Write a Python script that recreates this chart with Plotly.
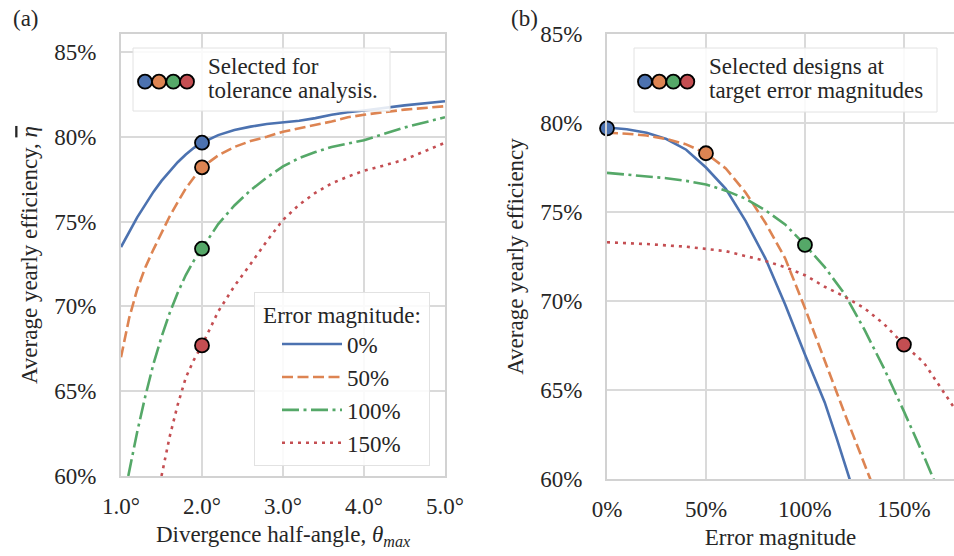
import plotly.graph_objects as go

# ---------------- data ----------------
# Panel (a): efficiency vs divergence half-angle (deg), per error magnitude
theta_0 = [1.0, 1.1, 1.2, 1.3, 1.4, 1.5, 1.6, 1.7, 1.8, 1.9, 2.0, 2.2, 2.4, 2.6, 2.8, 3.0, 3.2, 3.4, 3.6, 3.8, 4.0, 4.5, 5.0]
eff_0 = [73.5, 74.4, 75.25, 76.0, 76.75, 77.4, 77.95, 78.5, 78.95, 79.35, 79.65, 80.1, 80.4, 80.6, 80.75, 80.85, 80.95, 81.1, 81.3, 81.45, 81.55, 81.85, 82.1]

theta_50 = [1.0, 1.1, 1.2, 1.3, 1.4, 1.5, 1.6, 1.7, 1.8, 1.9, 2.0, 2.2, 2.4, 2.6, 2.8, 3.0, 3.2, 3.4, 3.6, 3.8, 4.0, 4.5, 5.0]
eff_50 = [67.0, 69.3, 71.0, 72.3, 73.35, 74.35, 75.3, 76.15, 76.95, 77.6, 78.2, 78.9, 79.4, 79.75, 80.0, 80.3, 80.5, 80.7, 80.9, 81.15, 81.3, 81.6, 81.8]

theta_100 = [1.09, 1.2, 1.3, 1.4, 1.5, 1.6, 1.7, 1.8, 1.9, 2.0, 2.2, 2.4, 2.6, 2.8, 3.0, 3.2, 3.4, 3.6, 3.8, 4.0, 4.2, 4.5, 5.0]
eff_100 = [60.0, 62.6, 64.7, 66.6, 68.2, 69.6, 70.8, 71.85, 72.7, 73.4, 74.85, 75.95, 76.85, 77.6, 78.25, 78.75, 79.1, 79.4, 79.6, 79.8, 80.1, 80.55, 81.15]

theta_150 = [1.5, 1.6, 1.7, 1.8, 1.9, 2.0, 2.2, 2.4, 2.6, 2.8, 3.0, 3.2, 3.4, 3.6, 3.8, 4.0, 4.2, 4.5, 5.0]
eff_150 = [60.0, 62.3, 64.2, 65.8, 66.85, 67.7, 69.7, 71.2, 72.5, 73.85, 75.1, 76.0, 76.7, 77.25, 77.65, 78.0, 78.25, 78.65, 79.65]

sel_theta = [2.0, 2.0, 2.0, 2.0]
sel_theta_eff = [79.65, 78.2, 73.4, 67.7]

# Panel (b): efficiency vs error magnitude (%), per design
err_0 = [0, 10, 20, 30, 40, 50, 60, 70, 80, 90, 100, 110, 116, 122.7, 126]
effb_0 = [79.75, 79.65, 79.45, 79.1, 78.5, 77.5, 76.3, 74.5, 72.4, 69.8, 67.0, 64.3, 62.3, 60.0, 58.8]

err_50 = [0, 10, 20, 30, 40, 50, 60, 70, 80, 90, 100, 110, 120, 133, 136]
effb_50 = [79.45, 79.4, 79.3, 79.1, 78.8, 78.3, 77.45, 76.1, 74.4, 72.4, 69.6, 66.6, 63.7, 60.0, 59.1]

err_100 = [0, 10, 20, 30, 40, 50, 60, 70, 80, 90, 100, 110, 120, 130, 140, 150, 160, 165, 168]
effb_100 = [77.2, 77.1, 77.0, 76.9, 76.75, 76.55, 76.2, 75.75, 75.1, 74.3, 73.15, 71.9, 70.4, 68.4, 66.2, 63.8, 61.3, 60.0, 59.2]

err_150 = [0, 20, 40, 60, 80, 90, 100, 110, 120, 130, 140, 150, 160, 170, 176]
effb_150 = [73.3, 73.2, 73.05, 72.8, 72.25, 71.9, 71.45, 70.8, 70.25, 69.6, 68.7, 67.55, 66.55, 64.9, 63.9]

sel_err = [0, 50, 100, 150]
sel_err_eff = [79.7, 78.3, 73.15, 67.55]

series_names = ["0%", "50%", "100%", "150%"]

y_tickvals = [60, 65, 70, 75, 80, 85]
y_ticktext = ["60%", "65%", "70%", "75%", "80%", "85%"]
xa_tickvals = [1, 2, 3, 4, 5]
xa_ticktext = ["1.0°", "2.0°", "3.0°", "4.0°", "5.0°"]
xb_tickvals = [0, 50, 100, 150, 200]
xb_ticktext = ["0%", "50%", "100%", "150%", "200%"]

# ---------------- style ----------------
W, H = 954, 556
colors = ["#4C72B0", "#DD8452", "#55A868", "#C44E52"]
dashes = ["solid", "11px,4.5px", "17px,4.5px,3px,4.5px", "3px,5px"]
FONT = "Liberation Serif"
TXT = "#262626"
GRID = "#dadada"
FS = 23

def px(x):
    return x / W

def py(y):
    return 1 - y / H

fig = go.Figure()

left_series = [(theta_0, eff_0), (theta_50, eff_50), (theta_100, eff_100), (theta_150, eff_150)]
right_series = [(err_0, effb_0), (err_50, effb_50), (err_100, effb_100), (err_150, effb_150)]

for i, (xs, ys) in enumerate(left_series):
    fig.add_trace(go.Scatter(x=xs, y=ys, mode="lines", name=series_names[i],
                             legendgroup=series_names[i], showlegend=True,
                             line=dict(color=colors[i], width=2.6, dash=dashes[i]),
                             xaxis="x", yaxis="y"))
for i, (xs, ys) in enumerate(right_series):
    fig.add_trace(go.Scatter(x=xs, y=ys, mode="lines", name=series_names[i],
                             legendgroup=series_names[i], showlegend=False,
                             line=dict(color=colors[i], width=2.6, dash=dashes[i]),
                             xaxis="x2", yaxis="y2"))

fig.add_trace(go.Scatter(x=sel_theta, y=sel_theta_eff, mode="markers", showlegend=False,
                         marker=dict(size=14, color=colors, line=dict(color="black", width=1.8)),
                         xaxis="x", yaxis="y", cliponaxis=False))
fig.add_trace(go.Scatter(x=sel_err, y=sel_err_eff, mode="markers", showlegend=False,
                         marker=dict(size=14, color=colors, line=dict(color="black", width=1.8)),
                         xaxis="x2", yaxis="y2", cliponaxis=False))

axis_common = dict(showgrid=True, gridcolor=GRID, gridwidth=1.6, zeroline=False,
                   showline=True, linecolor="#d2d2d2", linewidth=2, mirror=True,
                   ticks="", automargin=False,
                   tickfont=dict(family=FONT, size=FS, color=TXT))

def title(text, standoff):
    return dict(text=text, standoff=standoff, font=dict(family=FONT, size=FS, color=TXT))

fig.update_layout(
    template="none",
    width=W, height=H,
    margin=dict(l=0, r=0, t=0, b=0, autoexpand=False),
    paper_bgcolor="white", plot_bgcolor="white",
    font=dict(family=FONT, size=FS, color=TXT),
    xaxis=dict(domain=[px(121), px(445)], range=[1, 5], tickvals=xa_tickvals, ticktext=xa_ticktext,
               ticklabelstandoff=8, title=title("Divergence half-angle, <i>θ</i><sub><i>max</i></sub>", 8),
               anchor="y", **axis_common),
    yaxis=dict(domain=[py(476), py(34)], range=[60, 86.06], tickvals=y_tickvals, ticktext=y_ticktext,
               ticklabelstandoff=18,
               title=title("Average yearly efficiency, <span style=\"text-decoration:overline\"><i>η</i></span>", 10),
               anchor="x", **axis_common),
    xaxis2=dict(domain=[px(607), 1.0], range=[0, 175.3], tickvals=xb_tickvals, ticktext=xb_ticktext,
                ticklabelstandoff=8, title=title("Error magnitude", 8),
                anchor="y2", **axis_common),
    yaxis2=dict(domain=[py(479), py(34)], range=[60, 85.0], tickvals=y_tickvals, ticktext=y_ticktext,
                ticklabelstandoff=18, title=title("Average yearly efficiency", 10),
                anchor="x2", **axis_common),
    legend=dict(x=px(254), y=py(291.7), xanchor="left", yanchor="top",
                title=dict(text="\u00a0Error magnitude:\u00a0", side="top center",
                           font=dict(family=FONT, size=FS, color=TXT)),
                font=dict(family=FONT, size=FS, color=TXT),
                bgcolor="rgba(255,255,255,0.85)", bordercolor="#e2e2e2", borderwidth=1,
                tracegroupgap=0, indentation=22, itemwidth=60),
)

shapes = []
annotations = []

def legend_box(x0, x1, y0, y1, cx_list, cy, tx, lines):
    shapes.append(dict(type="rect", xref="paper", yref="paper", x0=px(x0), x1=px(x1), y0=py(y1), y1=py(y0),
                       line=dict(color="#e2e2e2", width=1), fillcolor="rgba(255,255,255,0.85)", layer="above"))
    for cx, c in zip(cx_list, colors):
        shapes.append(dict(type="circle", xref="paper", yref="paper", xsizemode="pixel", ysizemode="pixel",
                           xanchor=px(cx), yanchor=py(cy), x0=-7, x1=7, y0=-7, y1=7,
                           fillcolor=c, line=dict(color="black", width=1.8), layer="above"))
    for text, ly in lines:
        annotations.append(dict(text=text, xref="paper", yref="paper", x=px(tx), y=py(ly),
                                xanchor="left", yanchor="middle", showarrow=False,
                                font=dict(family=FONT, size=FS, color=TXT)))

legend_box(133, 390, 48, 111, [145, 159, 173.3, 187], 81.7, 206,
           [("Selected for", 66), ("tolerance analysis.", 90.7)])
legend_box(634, 937, 48, 112, [645, 659.3, 673.3, 687.3], 81.7, 707,
           [("Selected designs at", 66), ("target error magnitudes", 90.7)])

annotations.append(dict(text="(a)", xref="paper", yref="paper", x=px(11), y=py(18), xanchor="left",
                        yanchor="middle", showarrow=False, font=dict(family=FONT, size=FS, color=TXT)))
annotations.append(dict(text="(b)", xref="paper", yref="paper", x=px(509), y=py(18), xanchor="left",
                        yanchor="middle", showarrow=False, font=dict(family=FONT, size=FS, color=TXT)))

fig.update_layout(shapes=shapes, annotations=annotations)

fig.write_html("out.html", config={"displayModeBar": False},
               post_script="document.body.style.margin='0px';")
